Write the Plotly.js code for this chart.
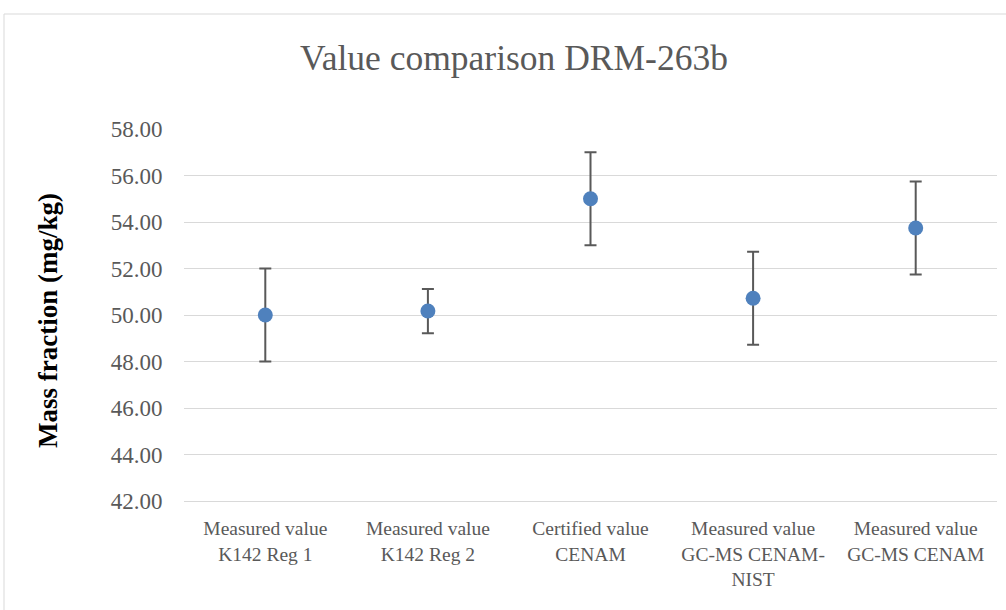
<!DOCTYPE html>
<html>
<head>
<meta charset="utf-8">
<script src="https://cdn.plot.ly/plotly-3.0.1.min.js"></script>
<style>
  html, body { margin: 0; padding: 0; background: #fff; }
  #chart { width: 1006px; height: 610px; }
</style>
</head>
<body>
<div id="chart"></div>
<script>
const categories = [
  "Measured value<br>K142 Reg 1",
  "Measured value<br>K142 Reg 2",
  "Certified value<br>CENAM",
  "Measured value<br>GC-MS CENAM-<br>NIST",
  "Measured value<br>GC-MS CENAM"
];
const values = [50.00, 50.17, 55.00, 50.72, 53.74];
const uncertainties = [2.00, 0.95, 2.00, 2.00, 2.00];
const yTicks = [42, 44, 46, 48, 50, 52, 54, 56, 58];
const chartTitle = 'Value comparison DRM-263b';
const yTitle = 'Mass fraction (mg/kg)';

const serif = 'Liberation Serif, Times New Roman, serif';
const L = 184, R = 9, T = 129, B = 109;
const W = 1006, H = 610;
const pw = W - L - R, ph = H - T - B;

const trace = {
  type: 'scatter',
  mode: 'markers',
  x: categories,
  y: values,
  marker: { color: '#4f81bd', size: 15, line: { width: 0 } },
  error_y: {
    type: 'data',
    array: uncertainties,
    visible: true,
    color: '#595959',
    thickness: 2,
    width: 6
  },
  hoverinfo: 'x+y',
  showlegend: false
};

const layout = {
  width: W,
  height: H,
  margin: { l: L, r: R, t: T, b: B, pad: 0 },
  paper_bgcolor: '#ffffff',
  plot_bgcolor: '#ffffff',
  font: { family: serif, color: '#595959' },
  annotations: [{
    text: chartTitle,
    xref: 'paper', yref: 'paper',
    x: (514 - L) / pw, xanchor: 'center',
    y: (H - B - 58) / ph, yanchor: 'middle',
    showarrow: false,
    font: { family: serif, size: 35.5, color: '#595959' }
  }, {
    text: '<b>' + yTitle + '</b>',
    xref: 'paper', yref: 'paper',
    x: (48 - L) / pw, xanchor: 'center',
    y: (H - B - 321) / ph, yanchor: 'middle',
    textangle: -90,
    showarrow: false,
    font: { family: serif, size: 27, color: '#000000' }
  }],
  xaxis: {
    type: 'category',
    range: [-0.5, categories.length - 0.5],
    showgrid: false,
    zeroline: false,
    showline: true,
    linecolor: '#d9d9d9',
    linewidth: 1,
    ticks: 'outside',
    ticklen: 10,
    tickcolor: 'rgba(0,0,0,0)',
    tickfont: { family: serif, size: 19.5, color: '#595959' },
    tickangle: 0,
    fixedrange: true
  },
  yaxis: {
    range: [42, 58],
    tickvals: yTicks,
    ticktext: yTicks.map(v => v.toFixed(2)),
    showgrid: true,
    gridcolor: '#d9d9d9',
    gridwidth: 1,
    zeroline: false,
    showline: false,
    ticks: 'outside',
    ticklen: 16,
    tickcolor: 'rgba(0,0,0,0)',
    tickfont: { family: serif, size: 23, color: '#595959' },
    fixedrange: true
  },
  shapes: [{
    type: 'rect',
    xref: 'paper', yref: 'paper',
    x0: (4 - L) / pw, x1: (W + 20 - L) / pw,
    y0: -(H + 20 - (H - B)) / ph, y1: (H - B - 14) / ph,
    line: { color: '#d9d9d9', width: 1 },
    fillcolor: 'rgba(0,0,0,0)',
    layer: 'below'
  }]
};

Plotly.newPlot('chart', [trace], layout, { displayModeBar: false });
</script>
</body>
</html>
